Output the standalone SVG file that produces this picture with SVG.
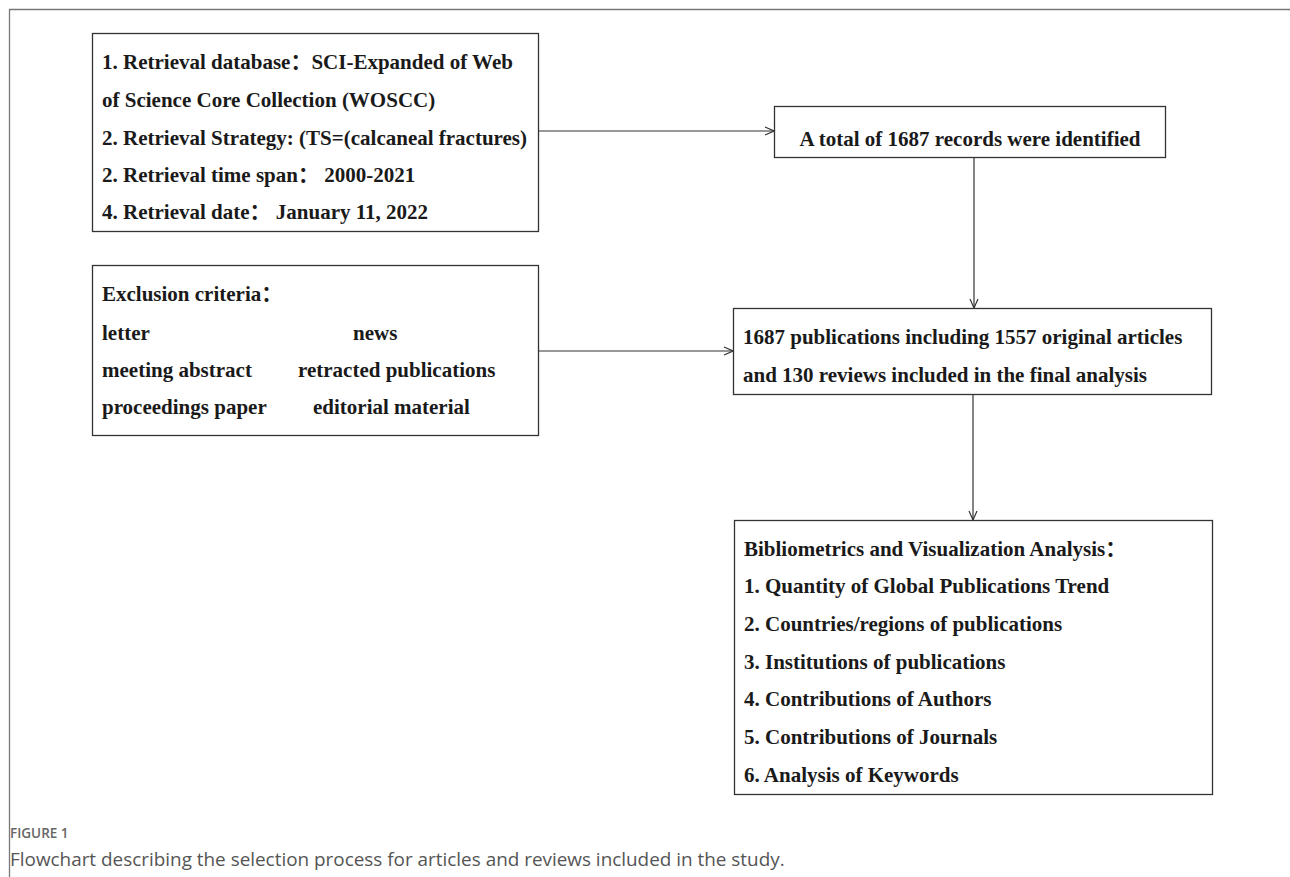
<svg xmlns="http://www.w3.org/2000/svg" width="1290" height="877" viewBox="0 0 1290 877">
<style>
.frame{fill:none;stroke:#777;stroke-width:1.3}
.box{fill:#fff;stroke:#333;stroke-width:1.3}
.t{font-family:"Liberation Serif","Times New Roman","Noto Sans CJK SC",serif;font-weight:bold;font-size:21px;fill:#1a1a1a}
.conn{fill:none;stroke:#333;stroke-width:1.2}
.cap1{font-family:"Open Sans","Noto Sans",sans-serif;font-size:13.5px;fill:#666;font-weight:600}
.cap2{font-family:"Open Sans","Noto Sans",sans-serif;font-size:18.9px;fill:#555}
</style>
<defs>
<marker id="arr" viewBox="0 0 10 10" refX="10" refY="5" markerWidth="10" markerHeight="10" markerUnits="userSpaceOnUse" orient="auto">
<path d="M1,1 L10,5 L1,9" fill="none" stroke="#333" stroke-width="1.2"/>
</marker>
</defs>
<rect width="1290" height="877" fill="#fff"/>
<path class="frame" d="M9.5,877 L9.5,9.5 L1290,9.5"/>

<g id="n1">
<rect class="box" x="92.5" y="33.5" width="446" height="198"/>
<text class="t" x="102" y="69">1. Retrieval database：SCI-Expanded of Web</text>
<text class="t" x="102" y="107">of Science Core Collection (WOSCC)</text>
<text class="t" x="102" y="145">2. Retrieval Strategy: (TS=(calcaneal fractures)</text>
<text class="t" x="102" y="182">2. Retrieval time span：  2000-2021</text>
<text class="t" x="102" y="219">4. Retrieval date：  January 11, 2022</text>
</g>

<g id="n2">
<rect class="box" x="774.5" y="106.5" width="391" height="51"/>
<text class="t" x="970" y="146" text-anchor="middle">A total of 1687 records were identified</text>
</g>

<g id="n3">
<rect class="box" x="92.5" y="265.5" width="446" height="170"/>
<text class="t" x="102" y="301">Exclusion criteria：</text>
<text class="t" x="102" y="340">letter</text>
<text class="t" x="353" y="340">news</text>
<text class="t" x="102" y="377">meeting abstract</text>
<text class="t" x="298" y="377">retracted publications</text>
<text class="t" x="102" y="414">proceedings paper</text>
<text class="t" x="313" y="414">editorial material</text>
</g>

<g id="n4">
<rect class="box" x="733.5" y="308.5" width="478" height="86"/>
<text class="t" x="743" y="344">1687 publications including 1557 original articles</text>
<text class="t" x="743" y="382">and 130 reviews included in the final analysis</text>
</g>

<g id="n5">
<rect class="box" x="734.5" y="520.5" width="478" height="274"/>
<text class="t" x="744" y="556">Bibliometrics and Visualization Analysis：</text>
<text class="t" x="744" y="593">1. Quantity of Global Publications Trend</text>
<text class="t" x="744" y="631">2. Countries/regions of publications</text>
<text class="t" x="744" y="669">3. Institutions of publications</text>
<text class="t" x="744" y="706">4. Contributions of Authors</text>
<text class="t" x="744" y="744">5. Contributions of Journals</text>
<text class="t" x="744" y="782">6. Analysis of Keywords</text>
</g>

<g id="connectors">
<line class="conn" x1="539" y1="131" x2="774" y2="131" marker-end="url(#arr)"/>
<line class="conn" x1="974" y1="158" x2="974" y2="308" marker-end="url(#arr)"/>
<line class="conn" x1="539" y1="351" x2="733" y2="351" marker-end="url(#arr)"/>
<line class="conn" x1="973" y1="395" x2="973" y2="520" marker-end="url(#arr)"/>
</g>

<text class="cap1" x="10" y="838">FIGURE 1</text>
<text class="cap2" x="10" y="866">Flowchart describing the selection process for articles and reviews included in the study.</text>
</svg>
